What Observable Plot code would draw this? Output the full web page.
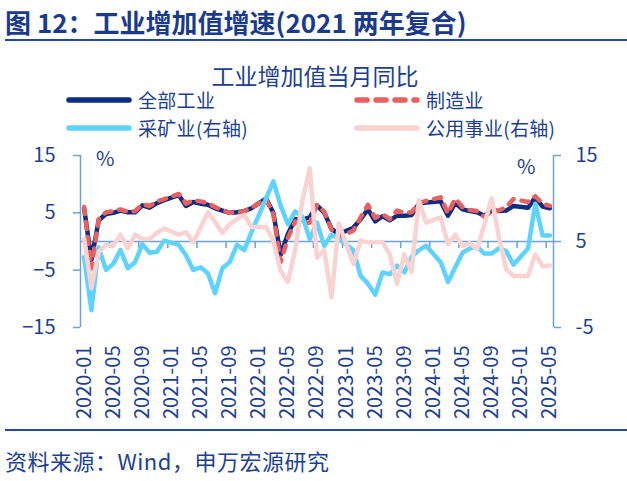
<!DOCTYPE html>
<html><head><meta charset="utf-8">
<script src="https://cdn.jsdelivr.net/npm/d3@7"></script>
<script src="https://cdn.jsdelivr.net/npm/@observablehq/plot@0.6"></script>
<style>
body{margin:0;width:627px;height:481px;position:relative;overflow:hidden;background:#fff;font-family:"Noto Sans CJK SC","Noto Sans",sans-serif;color:#1c3f94}
.abs{position:absolute;white-space:nowrap;line-height:1}
#hdr{left:5px;top:9px;font-size:26px;font-weight:bold;color:#1a3a8e}
#hr1{left:5px;right:0;top:39px;height:2px;background:#2348a0}
#title{left:0;width:630px;text-align:center;top:64px;font-size:23px}
#hr2{left:5px;right:0;top:429px;height:2px;background:#2348a0}
#src{left:5px;top:449px;font-size:22px;letter-spacing:0.5px}
#chart{position:absolute;left:0;top:140px}
.leg{font-size:19px;display:flex;align-items:center;height:20px}
.leg span{line-height:20px;letter-spacing:0.3px}
.leg svg{margin-right:6px}
.pct{font-size:20px}
</style></head><body>
<div id="hdr" class="abs">图 12：工业增加值增速(2021 两年复合)</div>
<div id="hr1" class="abs"></div>
<div id="title" class="abs">工业增加值当月同比</div>
<div id="legend"></div>
<div id="chart"></div>
<div class="abs pct" style="left:96px;top:148px">%</div>
<div class="abs pct" style="left:517px;top:156px">%</div>
<div id="hr2" class="abs"></div>
<div id="src" class="abs">资料来源：Wind，申万宏源研究</div>
<script>
const months = [
"2020-01","2020-02","2020-03","2020-04","2020-05","2020-06","2020-07","2020-08","2020-09","2020-10","2020-11","2020-12",
"2021-01","2021-02","2021-03","2021-04","2021-05","2021-06","2021-07","2021-08","2021-09","2021-10","2021-11","2021-12",
"2022-01","2022-02","2022-03","2022-04","2022-05","2022-06","2022-07","2022-08","2022-09","2022-10","2022-11","2022-12",
"2023-01","2023-02","2023-03","2023-04","2023-05","2023-06","2023-07","2023-08","2023-09","2023-10","2023-11","2023-12",
"2024-01","2024-02","2024-03","2024-04","2024-05","2024-06","2024-07","2024-08","2024-09","2024-10","2024-11","2024-12",
"2025-01","2025-02","2025-03","2025-04","2025-05"];

// 全部工业 (left axis)
const total = [5.8,-3.2,3.7,4.8,5.0,5.4,5.1,5.1,6.3,5.9,6.7,7.2,
 null,8.1,6.2,6.9,6.6,6.4,5.8,5.4,5.0,5.1,5.3,5.8,
 null,7.5,5.0,-2.3,1.3,3.9,3.8,4.2,6.3,5.0,2.2,1.3,
 null,2.4,3.9,5.6,3.5,4.4,3.7,4.5,4.5,4.6,6.6,6.8,
 null,7.0,4.5,6.7,5.6,5.3,5.1,4.5,5.4,5.3,5.4,6.2,
 null,5.9,7.7,6.1,5.8];
// 制造业 (left axis)
const manuf = [6.0,-4.7,3.9,5.1,5.3,5.6,5.2,5.3,6.5,6.2,7.0,7.4,
 null,8.3,6.6,7.2,7.0,6.7,6.0,5.5,5.0,5.0,5.3,5.9,
 null,7.4,4.8,-3.6,0.6,3.5,3.0,3.3,6.4,5.2,2.0,0.6,
 null,1.9,4.2,6.4,4.1,4.8,3.9,5.4,5.0,5.1,6.7,7.1,
 null,7.7,4.9,7.5,6.0,5.5,5.3,4.3,5.2,5.4,6.0,7.4,
 null,6.9,7.9,6.6,6.2];
// 采矿业 (right axis)
const mining = [3.2,-3.0,4.3,1.7,2.4,4.0,1.9,2.6,4.7,3.7,3.8,5.1,
 null,4.6,3.4,1.7,2.0,1.3,-1.0,1.9,2.6,4.6,4.0,6.1,
 null,10.0,12.0,9.2,7.0,8.5,7.9,5.3,7.2,4.5,5.8,5.3,
 null,4.0,1.0,0.1,-1.2,1.4,1.2,2.2,1.4,3.2,4.0,4.5,
 null,2.6,0.3,2.0,3.7,4.2,4.4,3.6,3.6,4.2,3.9,2.3,
 null,4.2,9.4,5.7,5.7];
// 公用事业 (right axis)
const utility = [5.3,-0.4,3.8,4.6,4.5,5.8,4.2,5.8,5.3,5.3,6.0,6.5,
 null,5.8,6.1,4.9,6.6,8.4,7.3,6.0,7.0,7.6,8.1,6.7,
 null,6.7,5.1,1.6,0.3,4.0,9.8,13.5,3.1,4.0,-1.5,7.1,
 null,2.4,5.1,4.9,4.9,4.9,3.5,0.1,3.5,1.5,9.8,7.2,
 null,7.8,4.7,5.8,4.5,4.8,4.1,7.0,10.0,5.5,1.8,1.0,
 null,1.0,3.5,2.1,2.2];

const leftTicks = [-15,-5,5,15];
const rightTicks = [-5,5,15];
const labelIdx = [0,4,8,12,16,20,24,28,32,36,40,44,48,52,56,60,64];

const NAVY="#0c2d83", RED="#e8605f", CYAN="#5fd3ff", PINK="#f9d2d2";
const AXIS="#6aa2dc", TEXT="#1c3f94";
const FONT='"Noto Sans CJK SC","Noto Sans",sans-serif';

// right axis value -> left axis value (15↔15, -5↔-15)
const toLeft = r => 15 - (15 - r) * 30 / 20;

const rows = arr => arr.map((v,i)=>({i, v})).filter(d => d.v != null);
const tickBounds = labelIdx.slice(1).map(i => i - 0.5);

const chart = Plot.plot({
  width: 627, height: 285,
  marginLeft: 80, marginRight: 74, marginTop: 15, marginBottom: 98,
  x: {domain: [-0.5, months.length - 0.5]},
  y: {domain: [-15, 15]},
  style: {fontFamily: FONT, background: "transparent", color: TEXT, overflow: "visible"},
  marks: [
    Plot.ruleY([0], {x1: -0.5, x2: months.length - 0.5, stroke: AXIS, strokeWidth: 1.5}),
    Plot.ruleX(tickBounds, {y1: 0, y2: 0, insetBottom: -7, stroke: AXIS, strokeWidth: 1.5}),
    Plot.ruleX([-0.5], {y1: -15, y2: 15, stroke: AXIS, strokeWidth: 1.5}),
    Plot.ruleX([months.length - 0.5], {y1: -15, y2: 15, stroke: AXIS, strokeWidth: 1.5}),
    Plot.axisY(leftTicks, {anchor: "left", tickSize: 7, tickPadding: 18, stroke: AXIS, strokeWidth: 1.5, fill: TEXT, fontSize: 20, label: null}),
    Plot.axisY(rightTicks.map(toLeft), {anchor: "right", tickSize: 7, tickPadding: 15, stroke: AXIS, strokeWidth: 1.5, fill: TEXT, fontSize: 20, label: null,
      tickFormat: d => rightTicks[rightTicks.map(toLeft).indexOf(d)]}),
    Plot.axisX(labelIdx, {anchor: "bottom", tickSize: 0, tickPadding: 18, tickRotate: -90, fill: TEXT, fontSize: 20, label: null,
      tickFormat: i => months[i]}),
    Plot.line(rows(total), {x: "i", y: "v", stroke: NAVY, strokeWidth: 4.5, strokeLinejoin: "round"}),
    Plot.line(rows(manuf), {x: "i", y: "v", stroke: RED, strokeWidth: 4.5, strokeLinejoin: "round", strokeLinecap: "round", strokeDasharray: "7,8"}),
    Plot.line(rows(mining), {x: "i", y: d => toLeft(d.v), stroke: CYAN, strokeWidth: 4.5, strokeLinejoin: "round"}),
    Plot.line(rows(utility), {x: "i", y: d => toLeft(d.v), stroke: PINK, strokeWidth: 4.5, strokeLinejoin: "round"})
  ]
});
document.getElementById("chart").appendChild(chart);

// legend
const legendItems = [
  {name: "全部工业", color: NAVY, dash: null, left: 66, top: 90},
  {name: "制造业", color: RED, dash: "10,9", left: 354, top: 90},
  {name: "采矿业(右轴)", color: CYAN, dash: null, left: 66, top: 118},
  {name: "公用事业(右轴)", color: PINK, dash: null, left: 354, top: 118}
];
const lg = document.getElementById("legend");
for (const it of legendItems) {
  const d = document.createElement("div");
  d.className = "abs leg";
  d.style.left = it.left + "px";
  d.style.top = it.top + "px";
  d.innerHTML = `<svg width="66" height="10"><line x1="3" y1="5" x2="63" y2="5" stroke="${it.color}" stroke-width="5.5" stroke-linecap="round" ${it.dash ? `stroke-dasharray="${it.dash}"` : ""}/></svg><span>${it.name}</span>`;
  lg.appendChild(d);
}
</script>
</body></html>
